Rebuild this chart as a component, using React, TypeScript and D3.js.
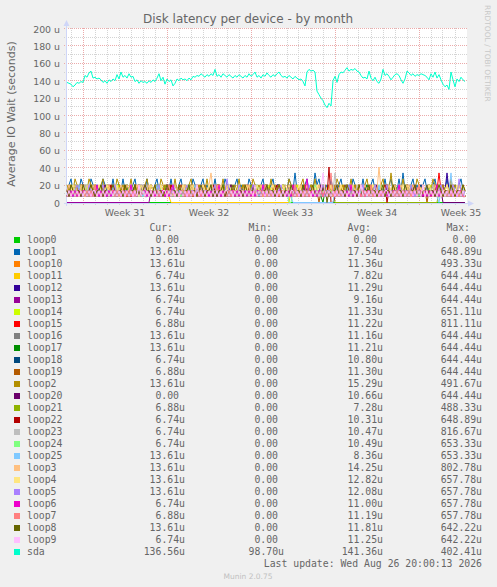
import React, { useEffect, useRef } from 'react';
import * as d3 from 'd3';

const WIDTH = 497;
const HEIGHT = 587;

// 400 px wide, 2 hours per pixel
const START = new Date(2026, 6, 25, 16, 0, 0);
const END = new Date(2026, 7, 28, 0, 0, 0);
const STEP_H = 4;
const QUANTUM = 6.8; // loop devices move in steps of ~6.8u

const DEVICES = [
  'loop0', 'loop1', 'loop10', 'loop11', 'loop12', 'loop13', 'loop14', 'loop15', 'loop16',
  'loop17', 'loop18', 'loop19', 'loop2', 'loop20', 'loop21', 'loop22', 'loop23', 'loop24',
  'loop25', 'loop3', 'loop4', 'loop5', 'loop6', 'loop7', 'loop8', 'loop9', 'sda',
];

const COLORS = [
  '#00CC00', '#0066B3', '#FF8000', '#FFCC00', '#330099', '#990099', '#CCFF00', '#FF0000', '#808080',
  '#008F00', '#00487D', '#B35A00', '#B38F00', '#6B006B', '#8FB300', '#B30000', '#BEBEBE', '#80FF80',
  '#80C9FF', '#FFC080', '#FFE680', '#AA80FF', '#EE00CC', '#FF8080', '#666600', '#FFBFFF', '#00FFCC',
];

const CUR = [0, 13.61, 13.61, 6.74, 13.61, 6.74, 6.74, 6.88, 13.61, 13.61, 6.74, 6.88, 13.61, 0, 6.88, 6.74, 6.74, 6.74, 13.61, 13.61, 13.61, 13.61, 6.74, 6.88, 13.61, 6.74, 136.56];
const MIN = [0, 0, 0, 0, 0, 0, 0, 0, 0, 0, 0, 0, 0, 0, 0, 0, 0, 0, 0, 0, 0, 0, 0, 0, 0, 0, 98.7];
const AVG = [0, 17.54, 11.36, 7.82, 11.29, 9.16, 11.33, 11.22, 11.16, 11.21, 10.8, 11.3, 15.29, 10.66, 7.28, 10.31, 10.47, 10.49, 8.36, 14.25, 12.82, 12.08, 11.0, 11.19, 11.81, 11.25, 141.36];
const MAX = [0, 648.89, 493.33, 644.44, 644.44, 644.44, 651.11, 811.11, 644.44, 644.44, 644.44, 644.44, 491.67, 644.44, 488.33, 648.89, 816.67, 653.33, 653.33, 802.78, 657.78, 657.78, 657.78, 657.78, 642.22, 642.22, 402.41];

const Y_TICKS = [0, 20, 40, 60, 80, 100, 120, 140, 160, 180, 200];
const Y_MINOR = [10, 30, 50, 70, 90, 110, 130, 150, 170, 190];

// sda, microseconds, one value per 4 hours
const sda = [
  138, 137, 136, 133, 135, 138, 137, 139, 138, 146,
  144, 149, 151, 143, 144, 142, 143, 141, 138, 140,
  137, 141, 139, 142, 140, 147, 142, 150, 144, 146,
  143, 148, 144, 145, 139, 141, 137, 140, 138, 139,
  137, 140, 138, 141, 139, 143, 148, 140, 144, 136,
  142, 139, 141, 134, 137, 142, 140, 143, 141, 142,
  140, 143, 141, 145, 144, 146, 145, 148, 146, 144,
  147, 145, 148, 146, 153, 145, 147, 144, 148, 146,
  144, 147, 145, 143, 146, 144, 147, 145, 143, 146,
  144, 148, 145, 147, 150, 144, 146, 143, 147, 145,
  149, 146, 144, 147, 145, 148, 150, 146, 144, 145,
  143, 146, 144, 142, 145, 143, 141, 142, 139, 134,
  150, 153, 151, 152, 150, 128, 124, 120, 117, 112,
  109, 114, 111, 140, 145, 138, 147, 150, 149, 152,
  155, 151, 153, 152, 154, 151, 150, 146, 143, 144,
  142, 151, 143, 140, 144, 139, 137, 142, 153, 146,
  148, 145, 141, 144, 147, 148, 146, 141, 137, 142,
  151, 149, 146, 148, 145, 147, 146, 148, 147, 146,
  144, 141, 148, 144, 150, 143, 147, 141, 136, 133,
  135, 130, 150, 141, 133, 142, 139, 144, 141, 139,
];

// loop devices, in steps of QUANTUM, one value per 4 hours
const loop0 = [
  0,0,0,0,0,0,0,0,0,0,0,0,0,0,0,0,0,0,0,0,0,0,0,0,0,0,0,0,0,0,0,0,0,0,0,0,0,0,0,0,
  0,0,0,0,0,0,0,0,0,0,0,0,0,0,0,0,0,0,0,0,0,0,0,0,0,0,0,0,0,0,0,0,0,0,0,0,0,0,0,0,
  0,0,0,0,0,0,0,0,0,0,0,0,0,0,0,0,0,0,0,0,0,0,0,0,0,0,0,0,0,0,0,0,0,0,0,0,0,0,0,0,
  0,0,0,0,0,0,0,0,0,0,0,0,0,0,0,0,0,0,0,0,0,0,0,0,0,0,0,0,0,0,0,0,0,0,0,0,0,0,0,0,
  0,0,0,0,0,0,0,0,0,0,0,0,0,0,0,0,0,0,0,0,0,0,0,0,0,0,0,0,0,0,0,0,0,0,0,0,0,0,0,0,
];
const loop1 = [
  2,3,4,2,3,2,2,4,3,2, 3,2,4,3,2,3,2,2,4,3, 2,3,2,4,2,3,3,2,4,2, 3,2,2,3,4,2,3,2,3,2,
  4,2,3,2,3,4,2,3,2,2, 3,2,4,2,3,2,3,4,2,3, 2,3,2,4,3,2,2,3,4,2, 3,2,3,2,4,2,3,2,2,4,
  3,2,3,2,3,4,2,3,2,3, 2,4,3,2,3,2,2,3,4,2, 3,2,3,4,2,3,3,2,3,2, 2,4,3,2,5,2,2,3,2,3,
  4,2,3,2,5,3,4,2,3,2, 3,2,4,2,3,2,3,4,2,3, 2,3,2,4,3,2,3,2,4,2, 3,2,3,4,2,3,2,3,2,4,
  2,3,4,2,3,2,4,2,5,2, 3,2,3,4,2,3,2,2,3,4, 2,3,2,3,4,2,3,2,3,2, 4,2,3,2,3,2,3,4,2,2,
];
const loop10 = [
  2,1,2,1,2,2,1,3,2,1, 2,1,2,1,3,2,1,2,1,2, 1,2,1,2,2,1,3,2,1,2, 2,1,2,1,2,3,1,2,2,1,
  2,1,3,2,1,2,1,2,2,1, 2,1,2,1,2,2,1,2,3,1, 2,1,2,1,2,1,3,2,1,2, 2,2,1,2,1,2,2,1,3,2,
  1,2,1,2,2,1,2,1,2,3, 2,1,2,1,2,2,1,3,2,1, 2,1,2,2,1,2,1,2,3,1, 2,1,2,1,2,3,2,1,2,1,
  2,2,1,2,1,2,1,3,2,1, 2,1,2,1,3,2,1,2,2,1, 2,1,2,2,1,2,1,2,1,3, 1,2,2,1,2,1,2,3,1,2,
  2,1,2,1,2,2,1,2,1,2, 3,1,2,1,2,1,2,2,1,2, 1,2,2,3,1,2,1,2,2,1, 2,1,2,1,2,2,1,2,1,2,
];
const loop11 = [
  1,2,1,2,2,3,1,2,1,2, 2,1,3,2,1,2,1,2,2,1, 2,1,2,1,3,2,1,2,1,2, 1,2,1,2,2,1,3,2,1,2,
  2,1,2,1,2,3,1,2,1,2, 2,1,0,0,0,0,0,0,0,0, 0,0,0,0,0,0,0,0,0,0, 0,0,0,0,0,0,0,0,0,0,
  0,0,0,0,0,0,0,0,0,0, 0,0,0,0,0,0,0,0,0,0, 0,0,0,0,0,0,0,0,0,0, 0,0,2,1,2,1,2,3,1,2,
  1,2,3,1,2,1,2,2,1,2, 1,3,2,1,2,1,2,2,3,1, 2,1,2,1,2,3,1,2,1,2, 2,1,2,3,1,2,1,2,1,2,
  3,1,2,1,2,2,1,2,1,3, 1,2,1,2,2,1,3,2,1,2, 1,2,1,2,3,1,2,1,2,2, 1,2,1,3,1,2,1,2,2,1,
];
const loop12 = [
  1,2,1,2,2,1,2,1,3,2, 1,2,2,1,2,1,2,2,1,2, 2,1,2,3,1,2,1,2,1,2, 2,1,2,1,2,2,1,3,2,1,
  1,2,1,2,2,1,2,1,2,2, 3,1,2,1,2,1,2,2,1,2, 1,2,2,1,3,2,1,2,1,2, 2,1,2,1,2,2,1,2,3,1,
  2,1,2,2,1,2,1,2,1,2, 1,2,3,2,1,2,1,2,2,1, 2,1,2,1,2,2,3,1,2,1, 2,2,1,2,1,2,1,2,2,1,
  3,2,1,2,1,2,2,1,2,1, 2,1,2,2,1,3,2,1,2,1, 2,1,2,1,2,2,1,2,1,3, 1,2,2,1,2,1,2,1,2,2,
  1,2,1,3,2,1,2,1,2,2, 1,2,1,2,2,1,2,3,1,2, 2,1,2,1,2,2,1,2,1,2, 5,2,1,2,2,1,2,1,2,2,
];
const loop13 = [
  0,0,0,0,0,0,0,0,0,0, 0,0,0,0,0,0,0,0,0,0, 0,0,0,0,0,0,0,0,0,0, 0,0,0,0,0,0,0,0,0,0,
  0,0,2,1,2,1,3,2,1,2, 1,2,2,1,2,1,2,3,1,2, 1,2,1,2,2,1,2,1,3,2, 2,1,2,1,2,2,1,2,1,2,
  3,1,2,1,2,1,2,2,1,2, 1,2,1,3,2,1,2,1,2,2, 1,2,1,2,1,2,3,1,2,1, 2,2,1,2,1,2,1,2,2,3,
  1,2,1,2,1,2,2,1,2,1, 2,1,3,2,1,2,1,2,2,1, 2,1,2,1,2,2,1,3,1,2, 1,2,1,2,2,1,2,1,2,1,
  3,2,1,2,1,2,2,1,2,1, 2,1,2,1,3,2,1,2,1,2, 2,1,2,1,2,1,2,2,3,1, 2,1,2,1,2,1,2,1,2,1,
];
const loop14 = [
  2,1,2,1,2,3,1,2,1,2, 2,1,2,1,3,2,1,2,2,1, 2,1,2,2,1,2,3,1,2,1, 1,2,1,2,2,1,2,1,2,3,
  2,1,2,1,2,2,1,3,2,1, 1,2,1,2,2,1,2,1,2,2, 3,1,2,1,2,1,2,2,1,2, 1,2,2,1,3,2,1,2,1,2,
  2,1,2,1,2,2,1,2,3,1, 2,1,2,1,2,1,2,2,1,2, 1,3,2,1,2,1,2,2,1,2, 2,1,2,1,2,3,1,2,1,2,
  2,2,1,2,1,2,1,2,3,1, 2,1,2,2,1,2,1,2,1,2, 2,1,3,2,1,2,1,2,2,1, 2,1,2,1,2,2,3,1,2,1,
  2,1,2,2,1,2,1,2,1,3, 1,2,1,2,2,1,2,1,2,2, 1,2,3,1,2,1,2,2,1,2, 1,2,1,2,2,1,2,1,2,1,
];
const loop15 = [
  1,2,1,2,2,1,2,1,3,2, 1,2,2,1,2,1,2,2,1,2, 1,3,2,1,2,1,2,2,1,2, 2,1,2,1,3,2,1,2,1,2,
  1,2,2,1,2,1,2,1,2,3, 1,2,1,2,2,1,2,1,2,2, 1,2,3,1,2,1,2,2,1,2, 1,2,1,2,2,1,3,2,1,2,
  2,1,2,1,2,2,1,2,1,2, 3,1,2,1,2,2,1,2,1,2, 2,1,2,3,1,2,1,2,2,1, 2,1,2,1,2,2,1,2,1,3,
  1,2,1,2,2,1,2,1,2,1, 2,3,1,2,1,2,2,1,2,1, 2,1,2,1,2,2,3,1,2,1, 2,1,2,2,1,2,1,2,1,2,
  3,1,2,1,2,1,2,2,1,2, 1,2,1,2,2,1,3,2,1,2, 2,1,2,1,2,2,5,2,1,2, 1,2,3,2,1,2,1,2,2,1,
];
const loop16 = [
  2,1,2,2,1,2,1,2,1,3, 1,2,1,2,2,1,2,1,2,2, 1,2,1,3,2,1,2,1,2,2, 1,2,1,2,1,2,2,3,1,2,
  2,1,2,1,2,2,1,2,1,2, 3,1,2,1,2,1,2,2,1,2, 1,2,2,1,2,3,1,2,1,2, 2,1,2,1,2,2,1,2,1,2,
  2,1,3,2,1,2,1,2,2,1, 2,1,2,1,2,2,1,2,3,1, 2,1,2,1,2,1,2,2,1,2, 1,3,2,1,2,1,2,2,1,2,
  1,2,1,2,2,1,2,3,1,2, 1,2,2,1,2,1,2,1,2,2, 3,1,2,1,2,1,2,2,1,2, 1,2,1,2,3,2,1,2,1,2,
  2,1,2,2,1,2,1,2,1,3, 1,2,1,2,2,1,2,1,2,2, 1,2,2,1,3,2,1,2,1,2, 2,1,2,1,2,2,1,2,1,2,
];
const loop17 = [
  1,2,2,1,3,2,1,2,1,2, 2,1,2,1,2,2,1,2,3,1, 2,1,2,2,1,2,1,2,1,2, 3,1,2,1,2,2,1,2,1,2,
  2,1,2,1,2,3,1,2,2,1, 2,1,2,1,2,2,1,2,1,2, 1,2,3,1,2,1,2,2,1,2, 2,1,2,1,2,1,2,2,3,1,
  2,1,2,2,1,2,1,2,1,2, 1,2,1,2,3,2,1,2,2,1, 2,1,2,1,2,2,1,2,1,3, 1,2,2,1,2,1,2,1,2,2,
  1,2,1,2,2,1,2,1,0,2, 1,2,2,1,2,3,1,2,1,2, 2,1,2,1,2,2,1,2,1,2, 3,2,1,2,1,2,2,1,2,1,
  2,1,2,1,3,2,1,2,2,1, 2,1,2,2,1,2,1,2,1,2, 1,3,2,1,2,1,2,2,1,2, 1,2,1,2,2,1,2,1,2,2,
];
const loop18 = [
  2,1,2,1,2,1,2,2,1,2, 1,2,1,3,2,1,2,1,2,1, 2,1,2,2,1,2,1,2,1,2, 1,2,1,2,2,1,3,2,1,2,
  2,1,2,1,2,1,2,2,1,2, 1,3,2,1,2,1,2,1,2,2, 1,2,1,2,1,2,2,1,2,1, 2,1,2,3,1,2,1,2,1,2,
  2,1,2,1,2,2,1,2,1,2, 1,2,1,2,1,3,2,1,2,1, 2,1,2,2,1,2,1,2,1,2, 1,2,1,2,2,1,2,1,3,2,
  1,2,1,2,1,2,2,1,2,1, 2,1,3,2,1,2,1,2,2,1, 2,1,2,1,2,1,2,2,1,2, 1,2,1,2,3,1,2,1,2,1,
  2,1,2,2,1,2,1,2,1,2, 1,2,1,2,2,1,2,3,1,2, 2,1,2,1,2,2,1,2,1,2, 1,2,1,2,2,1,2,1,2,1,
];
const loop19 = [
  2,3,2,1,2,2,3,1,2,2, 1,2,3,2,1,2,2,1,3,2, 2,1,2,3,1,2,2,1,2,3, 1,2,2,1,3,2,1,2,2,1,
  3,2,1,2,2,3,1,2,1,2, 2,3,1,2,2,1,2,3,2,1, 2,2,1,3,2,1,2,2,1,3, 2,1,2,2,3,1,2,1,2,2,
  1,3,2,1,2,2,1,2,3,1, 2,2,1,2,3,2,1,2,2,1, 3,1,2,2,1,2,3,1,2,1, 2,2,1,3,2,1,2,2,1,2,
  3,1,2,1,2,2,0,2,1,2, 2,1,3,2,1,2,2,1,2,3, 1,2,2,1,3,2,1,2,2,1, 2,3,1,2,2,1,2,3,1,2,
  2,1,2,3,1,2,2,1,2,2, 3,1,2,2,1,2,3,2,1,2, 0,2,1,2,2,3,1,2,1,2, 2,1,2,3,1,2,2,1,2,1,
];
const loop2 = [
  3,2,3,2,4,3,2,3,2,3, 2,4,3,2,3,2,2,3,4,2, 3,2,3,2,2,4,3,2,3,2, 3,2,4,2,3,2,3,2,2,3,
  4,2,3,2,3,2,2,4,3,2, 3,2,3,2,4,2,3,2,2,3, 2,3,4,2,3,2,3,2,3,2, 4,2,3,2,2,3,3,2,4,2,
  3,2,3,2,3,2,4,2,3,2, 2,3,2,4,3,2,3,2,2,3, 3,2,4,2,3,2,3,2,3,2, 2,4,3,2,3,2,2,3,4,2,
  3,2,3,2,4,2,3,2,3,2, 2,3,2,3,2,4,3,2,3,2, 3,2,4,2,3,2,3,2,2,3, 4,2,3,2,3,2,2,3,4,2,
  3,2,5,2,3,2,3,2,4,2, 3,2,3,2,2,4,3,2,3,2, 2,3,2,4,3,2,3,2,3,2, 3,2,4,2,3,2,3,2,3,2,
];
const loop20 = [
  1,2,1,2,2,1,2,3,1,2, 2,1,2,1,2,2,1,2,1,3, 1,2,2,1,2,1,2,1,2,2, 1,2,1,2,3,1,2,1,2,2,
  1,2,1,2,2,1,2,1,2,1, 3,2,1,2,1,2,2,1,2,1, 2,1,2,2,1,3,2,1,2,1, 2,1,2,1,2,2,1,2,1,2,
  1,2,3,1,2,1,2,2,1,2, 1,2,1,2,2,1,2,1,3,2, 1,2,1,2,1,2,2,1,2,1, 2,3,1,2,1,2,2,1,2,1,
  2,1,2,2,1,2,1,3,2,1, 2,1,2,1,2,2,1,2,1,2, 3,1,2,1,2,1,2,2,1,2, 1,2,2,1,2,3,1,2,1,2,
  2,1,2,1,2,2,1,2,1,2, 1,3,2,1,2,1,2,2,1,2, 2,1,2,1,3,2,1,2,0,0, 0,0,0,0,0,0,0,0,0,0,
];
const loop21 = [
  2,1,2,1,2,2,1,3,2,1, 2,1,2,1,2,1,2,2,1,2, 3,1,2,1,2,2,1,2,1,2, 1,2,2,1,3,2,1,2,1,2,
  2,1,2,1,2,2,1,2,1,3, 1,2,1,2,2,1,2,1,2,2, 1,3,2,1,2,1,2,2,1,2, 2,1,2,1,2,2,3,1,2,1,
  2,1,2,2,1,2,1,2,1,2, 1,2,3,1,2,1,2,2,1,2, 2,1,2,1,2,2,1,2,3,1, 2,1,2,2,1,2,1,2,1,2,
  3,1,2,1,2,2,1,2,1,2, 1,2,1,2,0,0,0,0,0,0, 0,0,0,0,0,0,0,0,0,0, 0,0,0,0,0,0,0,0,0,0,
  0,0,0,0,0,0,0,0,0,0, 0,0,0,0,0,0,0,0,0,0, 0,0,0,0,0,0,2,1,2,1, 2,2,1,2,1,2,1,2,2,1,
];
const loop22 = [
  1,2,1,2,2,1,2,1,3,2, 1,2,1,2,2,1,2,1,2,2, 1,2,3,1,2,1,2,2,1,2, 1,2,1,2,2,1,2,1,2,3,
  1,2,1,2,1,2,2,1,2,1, 2,1,3,2,1,2,1,2,2,1, 2,1,2,1,2,2,1,2,1,2, 1,2,1,3,2,1,2,1,2,2,
  1,2,1,2,1,2,2,1,2,1, 3,2,1,2,1,2,2,1,2,1, 2,1,2,1,2,3,1,2,1,2, 2,1,2,2,1,2,1,2,1,2,
  1,2,2,1,2,1,2,2,1,2, 1,6,0,0,1,2,1,2,2,1, 2,1,3,2,1,2,1,2,2,1, 2,1,2,1,2,2,1,2,1,3,
  0,2,1,2,1,2,2,1,2,1, 2,1,2,3,1,2,1,2,2,1, 2,1,2,1,2,2,1,3,1,2, 1,2,1,2,2,1,2,1,2,1,
];
const loop23 = [
  2,1,2,2,1,2,1,2,1,3, 1,2,1,2,2,1,2,1,2,1, 2,1,2,2,1,3,2,1,2,1, 2,1,2,1,2,2,1,2,1,2,
  3,1,2,1,2,1,2,2,1,2, 1,2,1,2,2,1,2,1,3,2, 1,2,1,2,1,2,2,1,2,1, 2,1,3,2,1,2,1,2,2,1,
  2,1,2,1,2,2,1,2,1,2, 1,2,1,2,3,1,2,1,2,2, 1,2,1,2,1,2,2,1,2,1, 2,1,3,1,2,1,2,2,1,2,
  1,2,1,2,2,1,2,1,2,1, 2,2,1,2,5,1,2,1,2,2, 1,2,1,2,1,3,2,1,2,1, 2,1,2,2,1,2,1,2,1,2,
  1,2,1,2,2,1,3,2,1,2, 1,2,1,2,1,2,2,1,2,1, 2,1,2,3,1,2,1,2,2,1, 2,1,2,1,2,2,1,2,1,1,
];
const loop24 = [
  1,2,1,2,1,2,2,1,2,1, 3,2,1,2,1,2,2,1,2,1, 2,1,2,1,2,3,1,2,1,2, 2,1,2,2,1,2,1,2,1,2,
  1,2,1,2,2,1,3,2,1,2, 1,2,1,2,1,2,2,1,2,1, 2,3,1,2,1,2,2,1,2,1, 2,1,2,1,2,2,1,2,3,1,
  2,1,2,2,1,2,1,2,1,2, 1,2,1,2,1,3,2,1,2,2, 1,2,1,2,2,1,2,1,2,1, 2,0,0,2,1,2,1,2,2,1,
  2,1,2,1,3,2,1,2,1,2, 1,2,2,1,2,1,2,1,2,2, 3,1,2,1,2,2,1,2,1,2, 1,2,1,2,2,1,2,3,1,2,
  1,2,1,2,1,2,2,1,2,1, 2,1,3,2,1,2,1,2,2,1, 2,1,2,1,2,2,1,2,1,2, 1,2,1,2,2,1,2,1,2,1,
];
const loop25 = [
  2,1,2,1,2,1,3,1,2,1, 2,1,2,1,2,2,1,2,1,2, 1,2,1,3,1,2,1,2,1,2, 2,1,2,1,2,2,1,2,1,2,
  1,2,1,2,1,3,1,2,1,2, 2,1,2,1,2,1,2,2,1,2, 1,2,1,2,3,1,2,1,2,1, 2,1,2,1,2,2,1,2,1,2,
  1,3,2,1,2,1,2,1,2,1, 2,1,2,2,1,2,1,2,3,1, 2,1,2,1,2,1,2,2,1,2, 1,2,1,0,0,0,0,0,0,0,
  0,0,0,0,0,0,0,0,0,0, 0,0,0,0,2,1,2,1,2,1, 2,1,2,3,1,2,1,2,2,1, 2,1,2,1,2,1,3,1,2,1,
  2,2,1,2,1,2,1,2,1,3, 1,2,1,2,2,1,2,1,2,1, 2,1,2,1,2,1,0,2,1,2, 1,2,5,1,2,1,2,1,2,2,
];
const loop3 = [
  2,3,2,2,3,2,1,3,2,2, 3,2,1,3,2,2,3,2,3,2, 2,3,1,2,3,2,2,3,2,1, 3,2,3,2,2,3,2,1,3,2,
  2,3,2,2,3,1,2,3,2,2, 3,2,2,1,3,2,3,2,2,3, 2,1,3,2,2,3,2,2,3,2, 1,3,5,2,3,2,2,3,2,1,
  3,2,2,3,2,1,3,2,2,3, 2,3,1,2,3,2,2,3,2,2, 3,1,2,3,2,2,3,2,1,3, 2,2,3,2,3,1,2,3,2,2,
  3,2,1,3,2,2,3,2,2,3, 2,1,3,2,2,3,2,3,2,1, 3,2,2,3,2,1,3,2,2,3, 2,3,2,1,3,2,6,2,3,2,
  2,3,2,2,3,1,2,3,2,2, 3,2,1,3,2,2,3,2,3,2, 2,3,2,1,3,2,2,3,2,2, 3,2,2,3,1,2,3,2,2,2,
];
const loop4 = [
  2,1,2,3,2,1,2,2,3,1, 2,3,2,1,2,2,3,2,1,2, 3,2,1,2,2,3,1,2,2,1, 2,2,3,1,2,2,1,3,2,2,
  1,2,3,2,1,2,2,3,1,2, 2,1,2,3,2,2,1,2,3,2, 1,2,2,3,1,2,2,1,3,2, 2,3,1,2,2,1,3,2,2,1,
  2,3,2,1,2,2,3,1,2,2, 3,1,2,2,1,3,2,2,1,2, 2,1,2,3,2,1,2,2,3,1, 2,3,2,1,2,2,3,2,1,2,
  3,2,1,2,2,3,1,2,2,1, 2,2,3,1,2,2,1,3,2,2, 1,2,3,2,1,2,2,3,1,2, 2,1,2,3,2,2,1,2,3,2,
  1,2,2,3,1,2,2,1,3,2, 2,3,1,2,2,1,3,2,2,1, 2,3,2,1,2,2,3,1,2,2, 3,1,2,2,1,3,2,2,1,2,
];
const loop5 = [
  1,2,2,1,2,3,2,1,2,2, 1,3,2,1,2,2,1,2,3,1, 2,2,1,2,3,1,2,2,1,2, 2,1,3,2,1,2,2,1,2,3,
  1,2,2,1,2,2,3,1,2,1, 2,2,1,3,2,1,2,2,1,2, 3,1,2,2,1,2,2,3,1,2, 2,1,2,2,3,1,2,1,2,2,
  4,2,1,2,2,1,3,2,1,2, 2,1,2,3,1,2,2,1,2,2, 3,1,2,2,1,2,2,3,1,2, 2,1,2,1,3,2,2,1,2,2,
  1,3,2,1,2,2,1,2,3,1, 2,2,1,2,2,3,1,2,1,2, 2,3,1,2,2,1,2,2,3,1, 2,1,2,2,3,1,2,1,2,2,
  3,1,2,2,1,2,3,2,1,2, 2,1,3,2,1,2,2,1,2,2, 3,1,2,2,1,2,2,3,1,2, 2,1,2,3,2,1,4,2,1,2,
];
const loop6 = [
  2,1,2,1,2,1,2,1,2,2, 1,2,1,2,1,3,1,2,1,2, 1,2,1,2,2,1,2,1,2,1, 2,1,3,1,2,1,2,1,2,2,
  1,2,1,2,1,2,1,2,2,1, 2,1,2,3,1,2,1,2,1,2, 1,2,1,2,2,1,2,1,2,1, 2,1,2,1,2,1,3,1,2,1,
  2,1,2,2,1,2,1,2,1,2, 1,2,1,2,1,2,2,1,3,1, 2,1,2,1,2,1,2,2,1,2, 1,2,1,3,1,2,1,2,1,2,
  4,1,2,1,2,1,2,2,1,2, 1,2,1,2,1,2,1,2,2,1, 2,1,3,1,2,1,2,1,2,1, 2,2,1,2,1,2,1,2,1,2,
  1,2,1,2,2,1,3,1,2,1, 2,1,2,1,2,1,2,2,1,2, 1,2,1,2,1,3,1,2,1,2, 2,1,2,1,2,1,2,2,1,1,
];
const loop7 = [
  1,2,1,2,1,2,1,2,2,1, 2,1,2,1,3,1,2,1,2,1, 2,1,2,2,1,2,1,2,1,2, 1,2,1,2,1,2,3,1,2,1,
  2,1,2,1,2,2,1,2,1,2, 1,3,1,2,1,2,1,2,2,1, 2,1,2,1,2,1,2,1,2,1, 2,2,1,2,1,3,1,2,1,2,
  1,2,1,2,2,1,2,1,2,1, 2,1,2,1,2,1,2,2,1,3, 1,2,1,2,1,2,1,2,2,1, 2,1,2,1,3,1,2,1,2,1,
  2,1,2,2,1,2,1,2,1,2, 1,2,5,1,2,1,2,1,2,2, 1,2,1,2,1,2,2,1,2,1, 2,1,3,1,2,1,2,1,2,1,
  2,2,1,2,1,2,1,2,1,2, 1,2,1,2,2,1,3,1,2,1, 2,1,2,1,2,1,2,2,1,2, 1,2,1,2,1,2,1,2,1,1,
];
const loop8 = [
  2,1,3,2,1,2,2,1,3,2, 1,2,3,2,1,2,2,3,1,2, 2,1,2,3,2,1,2,2,1,3, 2,1,2,2,3,1,2,1,2,3,
  2,2,1,2,3,1,2,2,1,2, 3,2,1,2,2,1,3,2,1,2, 2,3,1,2,2,1,2,3,2,1, 2,2,3,1,2,1,2,2,3,1,
  2,1,2,3,2,1,2,2,1,3, 2,1,2,2,3,1,2,1,2,2, 3,1,2,2,1,2,3,2,1,2, 2,1,3,2,1,2,2,1,3,2,
  1,2,2,3,1,2,1,2,2,3, 0,2,1,2,2,3,1,2,2,1, 3,2,1,2,2,1,3,2,1,2, 2,3,1,2,2,1,2,2,3,1,
  2,2,1,3,2,1,2,2,1,3, 2,1,2,2,3,1,2,1,2,2, 3,1,2,2,1,2,3,2,1,2, 2,1,3,2,1,2,2,1,3,2,
];
const loop9 = [
  1,2,1,2,1,2,1,2,1,2, 1,2,1,2,2,1,2,1,2,1, 2,1,2,1,2,1,2,1,2,1, 2,1,2,1,2,1,3,1,2,1,
  2,1,2,1,2,1,2,1,2,2, 1,2,1,2,1,2,1,2,1,2, 1,2,1,2,1,3,1,2,1,2, 1,2,1,2,1,2,1,2,1,2,
  2,1,2,1,2,1,2,1,2,1, 2,1,2,1,3,1,2,1,2,1, 2,1,2,1,2,1,2,1,2,1, 2,1,2,2,1,2,1,2,1,2,
  1,2,1,2,1,2,1,2,5,2, 1,2,1,2,1,2,1,2,1,2, 1,2,1,2,1,2,1,3,1,2, 1,2,1,2,1,2,1,2,1,2,
  2,1,2,1,2,1,2,1,2,1, 2,1,2,1,2,1,2,1,3,1, 2,1,2,1,2,1,2,1,2,1, 2,1,2,1,2,1,2,1,2,1,
];

const LOOP_LEVELS: Record<string, number[]> = {
  loop0, loop1, loop10, loop11, loop12, loop13, loop14, loop15, loop16, loop17, loop18, loop19,
  loop2, loop20, loop21, loop22, loop23, loop24, loop25, loop3, loop4, loop5, loop6, loop7, loop8, loop9,
};

const SANS = "'DejaVu Sans', sans-serif";
const MONO = "'DejaVu Sans Mono', monospace";
const FONT_COLOR = '#666666';
const AXIS_COLOR = '#CFD6F8';

const fmt = (v: number) => (v === 0 ? '0.00' : `${v.toFixed(2)}u`);

const App: React.FC = () => {
  const svgRef = useRef<SVGSVGElement>(null);

  useEffect(() => {
    if (!svgRef.current) return;
    const svg = d3.select(svgRef.current);
    svg.selectAll('*').remove();

    const left = 67;
    const right = 467;
    const x = d3.scaleTime().domain([START, END]).range([left, right]);
    const y = d3.scaleLinear().domain([0, 200]).range([202.5, 28.5]);
    const snapY = (v: number) => Math.round(y(v) - 0.5) + 0.5;
    const snapX = (d: Date) => Math.floor(x(d)) + 0.5;

    svg.append('rect').attr('width', WIDTH).attr('height', HEIGHT).attr('fill', '#F0F0F0');
    svg.append('rect').attr('x', left).attr('y', 28).attr('width', right - left).attr('height', 176).attr('fill', '#FFFFFF');

    // Grid lines
    const grid = svg.append('g').attr('stroke-dasharray', '1,1').attr('stroke-width', 1);
    const days = d3.timeDay.range(START, END).filter((d) => d.getDay() !== 1);
    const mondays = d3.timeMonday.range(START, END);
    grid.selectAll('.vmin').data(days).join('line')
      .attr('x1', snapX).attr('x2', snapX).attr('y1', 28).attr('y2', 206)
      .attr('stroke', '#D4D4D4');
    grid.selectAll('.hmin').data(Y_MINOR).join('line')
      .attr('x1', 64).attr('x2', right).attr('y1', snapY).attr('y2', snapY)
      .attr('stroke', '#D4D4D4');
    grid.selectAll('.vmaj').data(mondays).join('line')
      .attr('x1', snapX).attr('x2', snapX).attr('y1', 28).attr('y2', 206)
      .attr('stroke', '#EBAAAA');
    grid.selectAll('.hmaj').data(Y_TICKS.filter((v) => v > 0)).join('line')
      .attr('x1', 64).attr('x2', right).attr('y1', snapY).attr('y2', snapY)
      .attr('stroke', '#EBAAAA');

    // Axes with arrows
    svg.append('line').attr('x1', 64).attr('x2', 470).attr('y1', 203.5).attr('y2', 203.5).attr('stroke', AXIS_COLOR);
    svg.append('line').attr('x1', 66.5).attr('x2', 66.5).attr('y1', 206).attr('y2', 24).attr('stroke', AXIS_COLOR);
    svg.append('path').attr('d', 'M468,200.5 L474,203.5 L468,206.5 Z').attr('fill', AXIS_COLOR);
    svg.append('path').attr('d', 'M63.5,26 L66.5,20 L69.5,26 Z').attr('fill', AXIS_COLOR);

    // Y tick labels
    svg.append('g').selectAll('text').data(Y_TICKS).join('text')
      .attr('x', 60).attr('y', (d) => y(d) + 4)
      .attr('text-anchor', 'end')
      .attr('font-family', SANS).attr('font-size', '9.4px').attr('fill', FONT_COLOR)
      .text((d) => (d === 0 ? '0' : `${d} u`));

    // Week labels, centred on the week
    const weekFmt = d3.timeFormat('Week %V');
    const weeks = d3.timeMonday.range(d3.timeMonday.floor(START), END)
      .map((m) => ({ m, mid: d3.timeHour.offset(m, 84) }))
      .filter((w) => w.mid >= START && w.mid <= END);
    svg.append('g').selectAll('text').data(weeks).join('text')
      .attr('x', (d) => x(d.mid)).attr('y', 216)
      .attr('text-anchor', 'middle')
      .attr('font-family', SANS).attr('font-size', '9.4px').attr('fill', FONT_COLOR)
      .text((d) => weekFmt(d.m));

    // Series lines, drawn in legend order so sda ends on top
    const series = svg.append('g').attr('fill', 'none').attr('stroke-width', 1);
    const line = d3.line<number>()
      .x((_, i) => x(d3.timeHour.offset(START, i * STEP_H)))
      .y((v) => y(v));
    DEVICES.forEach((name, k) => {
      const values = name === 'sda' ? sda : LOOP_LEVELS[name].map((l) => l * QUANTUM);
      series.append('path').attr('d', line(values)).attr('stroke', COLORS[k]);
    });

    // Title and axis labels
    svg.append('text').attr('x', 248).attr('y', 23).attr('text-anchor', 'middle')
      .attr('font-family', SANS).attr('font-size', '12px').attr('fill', FONT_COLOR)
      .text('Disk latency per device - by month');
    svg.append('text').attr('transform', 'translate(15,114) rotate(-90)').attr('text-anchor', 'middle')
      .attr('font-family', SANS).attr('font-size', '11px').attr('fill', FONT_COLOR)
      .text('Average IO Wait (seconds)');
    svg.append('text').attr('transform', 'translate(484.5,5) rotate(90)')
      .attr('font-family', SANS).attr('font-size', '7.5px').attr('fill', '#C8C8C8')
      .text('RRDTOOL / TOBI OETIKER');

    // Legend
    const colEnds = [185, 284, 383, 482];
    const headers = ['Cur:', 'Min:', 'Avg:', 'Max:'];
    const legend = svg.append('g').attr('font-family', MONO).attr('font-size', '9.8px').attr('fill', FONT_COLOR);
    headers.forEach((h, c) => {
      legend.append('text').attr('x', colEnds[c] - 12).attr('y', 231).attr('text-anchor', 'end').text(h);
    });
    const rows = legend.selectAll('.row').data(DEVICES).join('g')
      .attr('transform', (_, i) => `translate(0,${243 + i * 12})`);
    rows.append('rect').attr('x', 14).attr('y', -6).attr('width', 6).attr('height', 6)
      .attr('fill', (_, i) => COLORS[i]);
    rows.append('text').attr('x', 27).attr('y', 0).text((d) => d);
    [CUR, MIN, AVG, MAX].forEach((col, c) => {
      rows.append('text')
        .attr('x', (_, i) => colEnds[c] - (col[i] === 0 ? 6 : 0))
        .attr('y', 0).attr('text-anchor', 'end')
        .text((_, i) => fmt(col[i]));
    });
    legend.append('text').attr('x', 482).attr('y', 567).attr('text-anchor', 'end')
      .text('Last update: Wed Aug 26 20:00:13 2026');

    svg.append('text').attr('x', 248).attr('y', 579).attr('text-anchor', 'middle')
      .attr('font-family', SANS).attr('font-size', '7.5px').attr('fill', '#C0C0C0')
      .text('Munin 2.0.75');
  }, []);

  return (
    <svg
      ref={svgRef}
      width={WIDTH}
      height={HEIGHT}
      style={{ position: 'absolute', left: 0, top: 0 }}
    />
  );
};

export default App;
